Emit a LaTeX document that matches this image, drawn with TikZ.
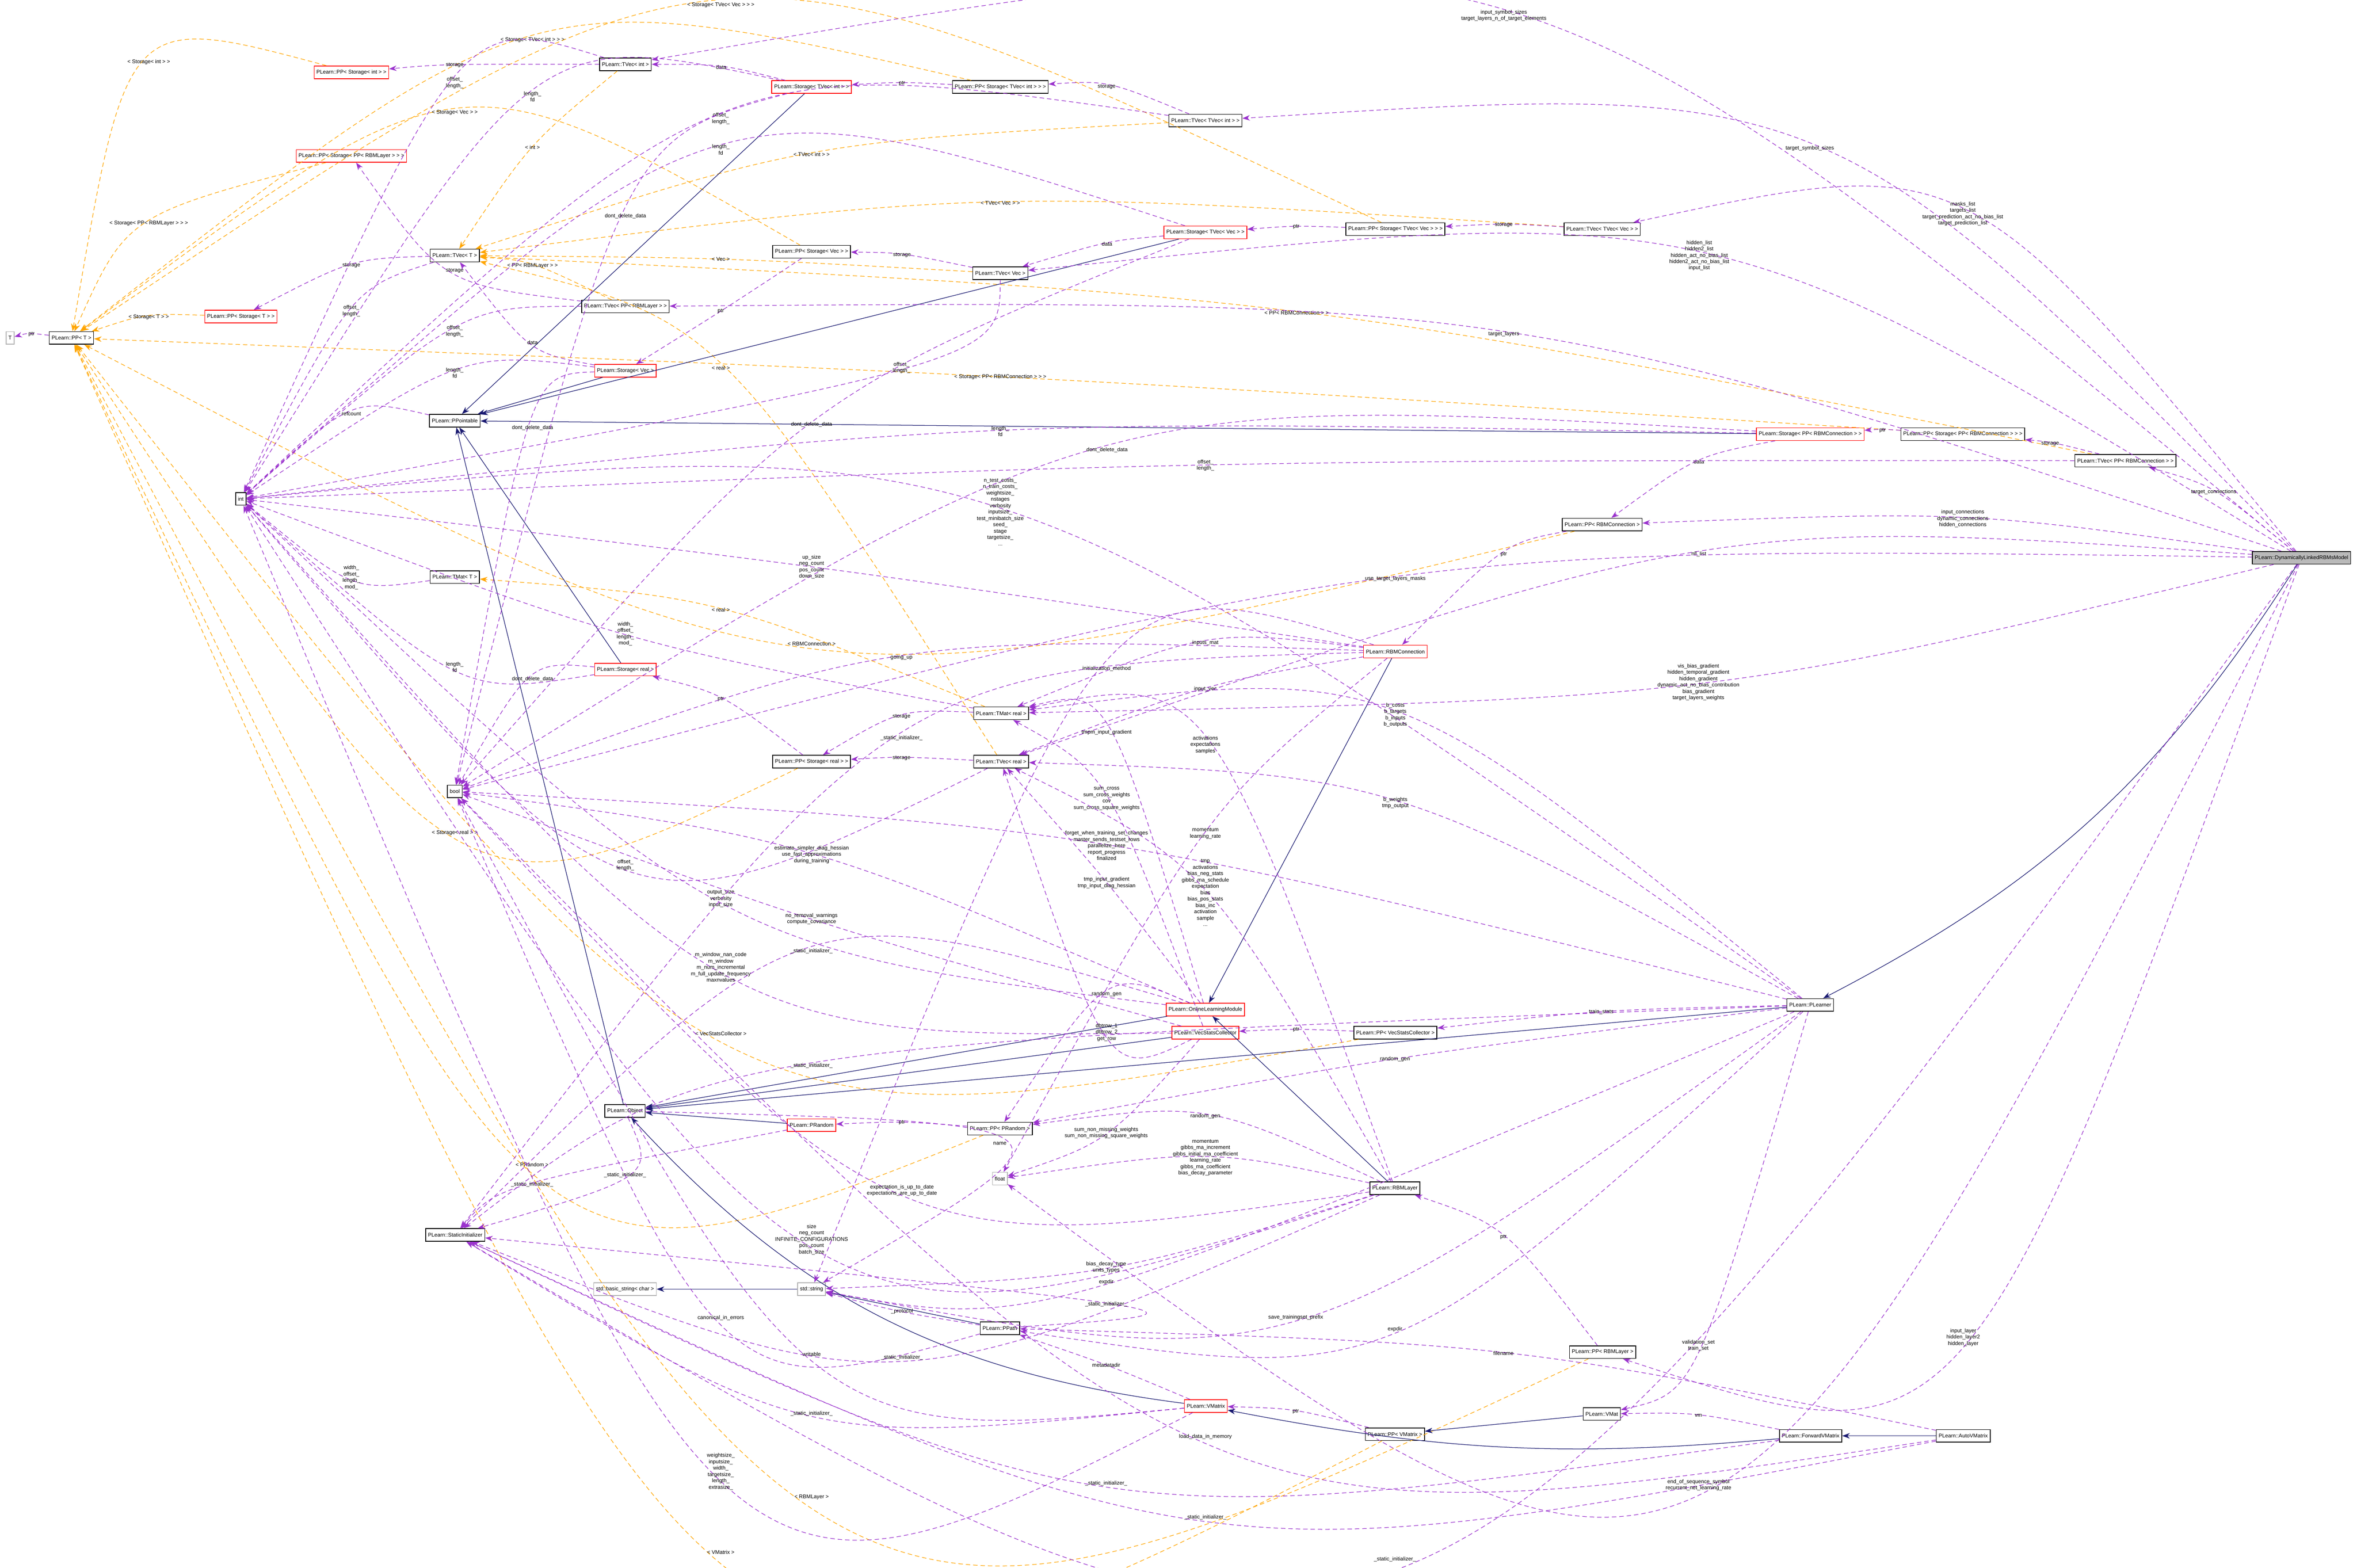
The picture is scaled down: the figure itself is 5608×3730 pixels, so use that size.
\documentclass[tikz,border=0pt]{standalone}
\usepackage{fontspec}
\setmainfont{Liberation Sans}
\usetikzlibrary{calc,arrows.meta}
\definecolor{memcol}{RGB}{154,50,205}
\definecolor{tplcol}{RGB}{255,165,0}
\definecolor{inhcol}{RGB}{25,25,112}
% member edge that bends towards its label position
\newcommand{\memb}[5]{%
  \draw[#1] (#2) .. controls ($($(#2)!.5!(#3)$)!1.35!(#4)$) .. (#3);
  \node[lbl] (l-#2-#3) at (#4) {#5};}
\begin{document}
\catcode`\_=12
\begin{tikzpicture}[x=0.01cm, y=-0.01cm,
    cls/.style={draw=black, fill=white, line width=0.5pt, inner sep=1.6pt, minimum height=0.3cm, font=\fontsize{3.6}{4.3}\selectfont},
    redcls/.style={cls, draw=red},
    greycls/.style={cls, draw=gray!60},
    maincls/.style={cls, fill=gray!55},
    lbl/.style={align=center, inner sep=0pt, font=\fontsize{3.6}{4.3}\selectfont},
    mem/.style={draw=memcol, line width=0.4pt, dash pattern=on 3pt off 2pt, -{Stealth[length=1.8mm,width=1.3mm]}},
    tpl/.style={draw=tplcol, line width=0.4pt, dash pattern=on 3pt off 2pt, -{Stealth[length=1.8mm,width=1.3mm]}},
    inh/.style={draw=inhcol, line width=0.4pt, -{Stealth[length=1.8mm,width=1.3mm]}}
]
\useasboundingbox (0,0) rectangle (5608,3730);

% Nodes
\node[greycls] (T) at (24,804) {T};
\node[cls] (ppT) at (170,804) {PLearn::PP< T >};
\node[redcls] (ppStT) at (573,753) {PLearn::PP< Storage< T > >};
\node[cls] (int) at (573,1187) {int};
\node[cls] (tvecT) at (1082,608) {PLearn::TVec< T >};
\node[redcls] (ppStInt) at (836,172) {PLearn::PP< Storage< int > >};
\node[cls] (tvecInt) at (1488,153) {PLearn::TVec< int >};
\node[redcls] (ppStPPLayer) at (836,371) {PLearn::PP< Storage< PP< RBMLayer > > >};
\node[cls] (tvecPPLayer) at (1488,729) {PLearn::TVec< PP< RBMLayer > >};
\node[redcls] (stVec) at (1488,882) {PLearn::Storage< Vec >};
\node[cls] (ppointable) at (1082,1001) {PLearn::PPointable};
\node[redcls] (stTVecInt) at (1931,207) {PLearn::Storage< TVec< int > >};
\node[cls] (ppStTVecInt) at (2380,207) {PLearn::PP< Storage< TVec< int > > >};
\node[cls] (tvecTVecInt) at (2868,287) {PLearn::TVec< TVec< int > >};
\node[redcls] (stTVecVec) at (2868,553) {PLearn::Storage< TVec< Vec > >};
\node[cls] (ppStTVecVec) at (3320,545) {PLearn::PP< Storage< TVec< Vec > > >};
\node[cls] (ppStVec) at (1931,599) {PLearn::PP< Storage< Vec > >};
\node[cls] (tvecVec) at (2380,650) {PLearn::TVec< Vec >};
\node[cls] (tvecTVecVec) at (3812,545) {PLearn::TVec< TVec< Vec > >};
\node[redcls] (stPPConn) at (4307,1033) {PLearn::Storage< PP< RBMConnection > >};
\node[cls] (ppStPPConn) at (4670,1033) {PLearn::PP< Storage< PP< RBMConnection > > >};
\node[cls] (tvecPPConn) at (5057,1096) {PLearn::TVec< PP< RBMConnection > >};
\node[cls] (ppConn) at (3812,1248) {PLearn::PP< RBMConnection >};
\node[maincls] (dlrbm) at (5476,1327) {PLearn::DynamicallyLinkedRBMsModel};
\node[cls] (tmatReal) at (2382,1697) {PLearn::TMat< real >};
\node[cls] (ppStReal) at (1931,1812) {PLearn::PP< Storage< real > >};
\node[cls] (tvecReal) at (2382,1812) {PLearn::TVec< real >};
\node[redcls] (rbmConn) at (3320,1550) {PLearn::RBMConnection};
\node[redcls] (olm) at (2868,2402) {PLearn::OnlineLearningModule};
\node[redcls] (vsc) at (2868,2457) {PLearn::VecStatsCollector};
\node[cls] (ppVsc) at (3320,2457) {PLearn::PP< VecStatsCollector >};
\node[cls] (tmatT) at (1082,1373) {PLearn::TMat< T >};
\node[redcls] (stReal) at (1488,1593) {PLearn::Storage< real >};
\node[cls] (bool) at (1082,1883) {bool};
\node[cls] (plearner) at (4307,2391) {PLearn::PLearner};
\node[cls] (object) at (1487,2643) {PLearn::Object};
\node[redcls] (prandom) at (1931,2677) {PLearn::PRandom};
\node[cls] (ppPRandom) at (2379,2685) {PLearn::PP< PRandom >};
\node[greycls] (float) at (2379,2804) {float};
\node[cls] (statInit) at (1083,2938) {PLearn::StaticInitializer};
\node[greycls] (basicStr) at (1487,3067) {std::basic_string< char >};
\node[greycls] (stdStr) at (1931,3067) {std::string};
\node[cls] (ppath) at (2379,3160) {PLearn::PPath};
\node[redcls] (vmatrix) at (2869,3345) {PLearn::VMatrix};
\node[cls] (rbmLayer) at (3319,2827) {PLearn::RBMLayer};
\node[cls] (ppLayer) at (3813,3217) {PLearn::PP< RBMLayer >};
\node[cls] (vmat) at (3811,3364) {PLearn::VMat};
\node[cls] (ppVMatrix) at (3319,3412) {PLearn::PP< VMatrix >};
\node[cls] (fwdVM) at (4308,3416) {PLearn::ForwardVMatrix};
\node[cls] (autoVM) at (4671,3416) {PLearn::AutoVMatrix};

% Template instances
\memb{tpl}{ppStInt}{ppT}{354,148}{< Storage< int > >}
\memb{tpl}{ppStTVecInt}{ppT}{1267,95}{< Storage< TVec< int > > >}
\memb{tpl}{ppStTVecVec}{ppT}{1715,12}{< Storage< TVec< Vec > > >}
\memb{tpl}{ppStPPLayer}{ppT}{354,531}{< Storage< PP< RBMLayer > > >}
\memb{tpl}{ppStT}{ppT}{354,754}{< Storage< T > >}
\memb{tpl}{ppStVec}{ppT}{1082,268}{< Storage< Vec > >}
\memb{tpl}{ppStPPConn}{ppT}{2380,897}{< Storage< PP< RBMConnection > > >}
\memb{tpl}{ppStReal}{ppT}{1082,1981}{< Storage< real > >}
\memb{tpl}{ppConn}{ppT}{1931,1532}{< RBMConnection >}
\memb{tpl}{ppVsc}{ppT}{1715,2459}{< VecStatsCollector >}
\memb{tpl}{ppPRandom}{ppT}{1266,2771}{< PRandom >}
\memb{tpl}{ppLayer}{ppT}{1931,3562}{< RBMLayer >}
\memb{tpl}{ppVMatrix}{ppT}{1715,3693}{< VMatrix >}
\memb{tpl}{tvecInt}{tvecT}{1267,351}{< int >}
\memb{tpl}{tvecTVecInt}{tvecT}{1931,367}{< TVec< int > >}
\memb{tpl}{tvecVec}{tvecT}{1715,617}{< Vec >}
\memb{tpl}{tvecTVecVec}{tvecT}{2380,483}{< TVec< Vec > >}
\memb{tpl}{tvecPPLayer}{tvecT}{1267,632}{< PP< RBMLayer > >}
\memb{tpl}{tvecPPConn}{tvecT}{3085,744}{< PP< RBMConnection > >}
\memb{tpl}{tvecReal}{tvecT}{1715,875}{< real >}
\memb{tpl}{tmatReal}{tmatT}{1715,1451}{< real >}

% Inheritance
\draw[inh] (stTVecInt) -- (ppointable);
\draw[inh] (stVec) -- (ppointable);
\draw[inh] (stTVecVec) -- (ppointable);
\draw[inh] (stPPConn) -- (ppointable);
\draw[inh] (stReal) -- (ppointable);
\draw[inh] (object) -- (ppointable);
\draw[inh] (prandom) -- (object);
\draw[inh] (olm) -- (object);
\draw[inh] (vsc) -- (object);
\draw[inh] (plearner) -- (object);
\draw[inh] (vmatrix) to[bend left=20] (object);
\draw[inh] (rbmConn) -- (olm);
\draw[inh] (rbmLayer) -- (olm);
\draw[inh] (dlrbm) to[bend left=15] (plearner);
\draw[inh] (fwdVM) to[bend left=8] (vmatrix);
\draw[inh] (autoVM) -- (fwdVM);
\draw[inh] (vmat) -- (ppVMatrix);
\draw[inh] (ppath) -- (stdStr);
\draw[inh] (stdStr) -- (basicStr);

% Members
\memb{mem}{ppT}{T}{75,795}{ptr}
\memb{mem}{tvecInt}{ppStInt}{1082,155}{storage}
\memb{mem}{stTVecInt}{tvecInt}{1716,160}{data}
\memb{mem}{ppStTVecInt}{stTVecInt}{2146,198}{ptr}
\memb{mem}{tvecTVecInt}{ppStTVecInt}{2633,206}{storage}
\memb{mem}{dlrbm}{tvecInt}{3578,37}{input_symbol_sizes\\target_layers_n_of_target_elements}
\memb{mem}{dlrbm}{tvecTVecInt}{4306,353}{target_symbol_sizes}
\memb{mem}{dlrbm}{tvecTVecVec}{4670,509}{masks_list\\targets_list\\target_prediction_act_no_bias_list\\target_prediction_list}
\memb{mem}{dlrbm}{tvecVec}{4043,608}{hidden_list\\hidden2_list\\hidden_act_no_bias_list\\hidden2_act_no_bias_list\\input_list}
\memb{mem}{dlrbm}{tvecPPLayer}{3578,795}{target_layers}
\memb{mem}{dlrbm}{tvecPPConn}{5267,1170}{target_connections}
\memb{mem}{dlrbm}{ppConn}{4670,1234}{input_connections\\dynamic_connections\\hidden_connections}
\memb{mem}{dlrbm}{tvecReal}{4042,1319}{nll_list}
\memb{mem}{dlrbm}{bool}{3320,1377}{use_target_layers_masks}
\memb{mem}{dlrbm}{tmatReal}{4041,1623}{vis_bias_gradient\\hidden_temporal_gradient\\hidden_gradient\\dynamic_act_no_bias_contribution\\bias_gradient\\target_layers_weights}
\memb{mem}{stTVecVec}{tvecVec}{2634,580}{data}
\memb{mem}{ppStTVecVec}{stTVecVec}{3084,540}{ptr}
\memb{mem}{tvecTVecVec}{ppStTVecVec}{3578,535}{storage}
\memb{mem}{tvecVec}{ppStVec}{2146,607}{storage}
\memb{mem}{ppStPPConn}{stPPConn}{4479,1024}{ptr}
\memb{mem}{tvecPPConn}{ppStPPConn}{4878,1055}{storage}
\memb{mem}{stPPConn}{ppConn}{4042,1099}{data}
\memb{mem}{ppConn}{rbmConn}{3578,1319}{ptr}
\memb{mem}{tvecT}{ppStT}{836,632}{storage}
\memb{mem}{tvecPPLayer}{ppStPPLayer}{1082,644}{storage}
\memb{mem}{ppStVec}{stVec}{1715,740}{ptr}
\memb{mem}{stVec}{tvecT}{1267,815}{data}
\memb{mem}{tvecInt}{int}{1082,197}{offset_\\length_}
\memb{mem}{stTVecInt}{int}{1267,230}{length_\\fd}
\memb{mem}{tvecTVecInt}{int}{1715,282}{offset_\\length_}
\memb{mem}{tvecVec}{int}{2145,875}{offset_\\length_}
\memb{mem}{stTVecVec}{int}{1715,356}{length_\\fd}
\memb{mem}{tvecT}{int}{836,740}{offset_\\length_}
\memb{mem}{tvecPPLayer}{int}{1082,788}{offset_\\length_}
\memb{mem}{stVec}{int}{1082,887}{length_\\fd}
\memb{mem}{ppointable}{int}{836,984}{refcount}
\memb{mem}{stReal}{int}{1082,1587}{length_\\fd}
\memb{mem}{tmatT}{int}{836,1374}{width_\\offset_\\length_\\mod_}
\memb{mem}{tmatReal}{int}{1488,1508}{width_\\offset_\\length_\\mod_}
\memb{mem}{stVec}{bool}{1267,1018}{dont_delete_data}
\memb{mem}{stTVecInt}{bool}{1488,514}{dont_delete_data}
\memb{mem}{stTVecVec}{bool}{1931,1010}{dont_delete_data}
\memb{mem}{stPPConn}{bool}{2634,1071}{dont_delete_data}
\memb{mem}{stPPConn}{int}{2380,1026}{length_\\fd}
\memb{mem}{tvecPPConn}{int}{2868,1107}{offset_\\length_}
\memb{mem}{stReal}{bool}{1267,1616}{dont_delete_data}
\memb{mem}{tvecReal}{ppStReal}{2145,1803}{storage}
\memb{mem}{tmatReal}{ppStReal}{2145,1705}{storage}
\memb{mem}{ppStReal}{stReal}{1715,1663}{ptr}
\memb{mem}{tvecReal}{int}{1488,2058}{offset_\\length_}
\memb{mem}{plearner}{int}{2380,1218}{n_test_costs_\\n_train_costs_\\weightsize_\\nstages\\verbosity\\inputsize_\\test_minibatch_size\\seed_\\stage\\targetsize_\\...}
\memb{mem}{rbmConn}{int}{1931,1349}{up_size\\neg_count\\pos_count\\down_size}
\memb{mem}{rbmConn}{tmatReal}{2868,1529}{inputs_mat}
\memb{mem}{rbmConn}{tvecReal}{2868,1639}{input_vec}
\memb{mem}{rbmConn}{stdStr}{2633,1591}{initialization_method}
\memb{mem}{rbmConn}{bool}{2145,1564}{going_up}
\memb{mem}{olm}{tmatReal}{2633,1743}{tmpm_input_gradient}
\memb{mem}{rbmLayer}{tmatReal}{2868,1772}{activations\\expectations\\samples}
\memb{mem}{plearner}{tmatReal}{3320,1701}{b_costs\\b_targets\\b_inputs\\b_outputs}
\memb{mem}{plearner}{tvecReal}{3320,1910}{b_weights\\tmp_output}
\memb{mem}{vsc}{tmatReal}{2633,1900}{sum_cross\\sum_cross_weights\\cov\\sum_cross_square_weights}
\memb{mem}{plearner}{bool}{2633,2012}{forget_when_training_set_changes\\master_sends_testset_rows\\parallelize_here\\report_progress\\finalized}
\memb{mem}{rbmConn}{float}{2868,1983}{momentum\\learning_rate}
\memb{mem}{rbmLayer}{tvecReal}{2868,2124}{tmp\\activations\\bias_neg_stats\\gibbs_ma_schedule\\expectation\\bias\\bias_pos_stats\\bias_inc\\activation\\sample\\...}
\memb{mem}{olm}{tvecReal}{2633,2100}{tmp_input_gradient\\tmp_input_diag_hessian}
\memb{mem}{olm}{bool}{1931,2033}{estimate_simpler_diag_hessian\\use_fast_approximations\\during_training}
\memb{mem}{olm}{int}{1715,2138}{output_size\\verbosity\\input_size}
\memb{mem}{vsc}{bool}{1931,2186}{no_removal_warnings\\compute_covariance}
\memb{mem}{vsc}{int}{1715,2301}{m_window_nan_code\\m_window\\m_num_incremental\\m_full_update_frequency\\maxnvalues}
\memb{mem}{olm}{statInit}{1931,2263}{_static_initializer_}
\memb{mem}{rbmConn}{statInit}{2145,1756}{_static_initializer_}
\memb{mem}{olm}{ppPRandom}{2633,2365}{random_gen}
\memb{mem}{vsc}{tvecReal}{2633,2456}{dbtrow_1\\dbtrow_2\\get_row}
\memb{mem}{ppPRandom}{prandom}{2146,2671}{ptr}
\memb{mem}{ppVsc}{vsc}{3084,2450}{ptr}
\memb{mem}{plearner}{ppVsc}{3810,2408}{train_stats}
\memb{mem}{plearner}{ppPRandom}{3319,2520}{random_gen}
\memb{mem}{rbmLayer}{ppPRandom}{2868,2656}{random_gen}
\memb{mem}{rbmLayer}{float}{2868,2754}{momentum\\gibbs_ma_increment\\gibbs_initial_ma_coefficient\\learning_rate\\gibbs_ma_coefficient\\bias_decay_parameter}
\memb{mem}{vsc}{float}{2632,2695}{sum_non_missing_weights\\sum_non_missing_square_weights}
\memb{mem}{object}{stdStr}{2379,2720}{name}
\memb{mem}{rbmLayer}{bool}{2146,2832}{expectation_is_up_to_date\\expectations_are_up_to_date}
\memb{mem}{rbmLayer}{int}{1931,2949}{size\\neg_count\\INFINITE_CONFIGURATIONS\\pos_count\\batch_size}
\memb{mem}{rbmLayer}{stdStr}{2632,3015}{bias_decay_type\\units_types}
\memb{mem}{plearner}{stdStr}{2632,3050}{expdir}
\memb{mem}{plearner}{ppath}{3319,3162}{expdir}
\memb{mem}{ppath}{stdStr}{2146,3120}{_protocol}
\memb{mem}{ppath}{bool}{1715,3135}{canonical_in_errors}
\memb{mem}{vmatrix}{bool}{1931,3222}{writable}
\memb{mem}{rbmLayer}{statInit}{2146,3230}{_static_initializer_}
\memb{mem}{ppath}{statInit}{2632,3103}{_static_initializer_}
\memb{mem}{vmatrix}{ppath}{2632,3248}{metadatadir}
\memb{mem}{object}{statInit}{1487,2796}{_static_initializer_}
\memb{mem}{prandom}{statInit}{1266,2818}{_static_initializer_}
\memb{mem}{plearner}{statInit}{1931,2535}{_static_initializer_}
\memb{mem}{vmatrix}{int}{1715,3501}{weightsize_\\inputsize_\\width_\\targetsize_\\length_\\extrasize_}
\memb{mem}{vmatrix}{statInit}{1931,3363}{_static_initializer_}
\memb{mem}{fwdVM}{statInit}{2632,3529}{_static_initializer_}
\memb{mem}{autoVM}{statInit}{2868,3610}{_static_initializer_}
\memb{mem}{dlrbm}{statInit}{3319,3710}{_static_initializer_}
\memb{mem}{ppVMatrix}{vmatrix}{3083,3358}{ptr}
\memb{mem}{fwdVM}{vmat}{4041,3368}{vm}
\memb{mem}{ppLayer}{rbmLayer}{3577,2943}{ptr}
\memb{mem}{dlrbm}{ppLayer}{4671,3182}{input_layer\\hidden_layer2\\hidden_layer}
\memb{mem}{plearner}{vmat}{4041,3201}{validation_set\\train_set}
\memb{mem}{autoVM}{bool}{2868,3418}{load_data_in_memory}
\memb{mem}{autoVM}{ppath}{3577,3220}{filename}
\memb{mem}{dlrbm}{float}{4041,3533}{end_of_sequence_symbol\\recurrent_net_learning_rate}
\memb{mem}{plearner}{stdStr}{3083,3134}{save_trainingset_prefix}

\end{tikzpicture}
\end{document}
